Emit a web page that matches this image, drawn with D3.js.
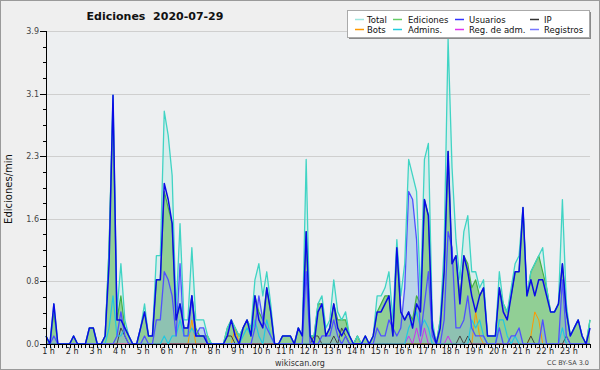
<!DOCTYPE html>
<html>
<head>
<meta charset="utf-8">
<script src="https://cdn.jsdelivr.net/npm/d3@7"></script>
<style>
  body { margin: 0; background: #fff; }
  svg { display: block; font-family: "DejaVu Sans", sans-serif; }
</style>
</head>
<body>
<div id="chart"></div>
<script>
// ediciones por minuto, un valor cada 10 minutos (1 h ... 24 h), una fila por hora
const total = [
  0.1,0,0.5,0,0,0,
  0,0.1,0,0,0,0.2,
  0.2,0,0,0.1,1.2,3.1,
  0.4,1.0,0.3,0.1,0,0,
  0.2,0.5,0.1,0.1,1.1,1.1,
  2.9,2.6,2.1,0.4,1.5,0.3,
  0.3,1.2,0.3,0.3,0.3,0.1,
  0,0,0,0,0.2,0.3,
  0.2,0.1,0.2,0.3,0.2,0.8,
  1.0,0.6,0.9,0.5,0,0,
  0.1,0.1,0.1,0,0.2,0.1,
  2.3,0.1,0.1,0.5,0.6,0.2,
  0.3,0.8,0.4,0.3,0.4,0.1,
  0,0.1,0,0.1,0,0.1,
  0.6,0.6,0.7,0.9,0.3,1.3,
  0.6,1.0,2.3,2.1,1.9,0.6,
  2.3,2.5,0.3,0,0.3,1.2,
  3.8,2.2,1.3,0.8,1.4,1.6,
  0.9,0.9,0.7,0.8,0.1,0.1,
  0.1,0.9,0.5,0.4,0.7,1.0,
  1.1,1.7,0.6,0.9,1.0,1.1,
  1.2,0.7,0.4,0.4,0.5,1.8,
  0.5,0.1,0.2,0.3,0.1,0,0.3
];
const ediciones = [
  0.1,0,0.4,0,0,0,
  0,0.1,0,0,0,0.2,
  0.2,0,0,0.1,1.2,3.0,
  0.3,0.6,0.2,0.1,0,0,
  0.2,0.4,0.1,0.1,0.8,0.8,
  1.9,1.7,1.5,0.3,0.5,0.2,
  0.2,0.6,0.2,0.1,0.1,0.1,
  0,0,0,0,0.2,0.3,
  0.2,0.1,0.2,0.3,0.2,0.6,
  0.4,0.3,0.7,0.4,0,0,
  0.1,0.1,0.1,0,0.2,0.1,
  1.4,0.1,0.1,0.5,0.5,0.1,
  0.2,0.5,0.3,0.3,0.3,0.1,
  0,0.1,0,0.1,0,0.1,
  0.4,0.5,0.6,0.6,0.1,1.2,
  0.4,0.3,0.4,0.3,0.6,0.5,
  1.8,1.6,0.2,0,0.3,0.9,
  2.4,1.0,1.1,0.6,1.1,1.0,
  0.7,0.8,0.6,0.7,0.1,0.1,
  0.1,0.7,0.5,0.4,0.6,0.9,
  0.9,1.7,0.6,0.9,1.0,1.1,
  0.9,0.7,0.4,0.4,0.5,1.0,
  0.4,0.1,0.2,0.3,0.1,0,0.3
];
const usuarios = [
  0.1,0,0.5,0,0,0,
  0,0.1,0,0,0,0.2,
  0.2,0,0,0.1,1.0,3.1,
  0.3,0.3,0.2,0.1,0,0,
  0.2,0.4,0.1,0.1,0.8,0.8,
  2.0,1.8,1.5,0.3,0.5,0.2,
  0.2,0.6,0.1,0.1,0.1,0,
  0,0,0,0,0.1,0.3,
  0.1,0,0.2,0.3,0.1,0.6,
  0.3,0.2,0.7,0.4,0,0,
  0.1,0.1,0.1,0,0.2,0.1,
  1.4,0.1,0,0.4,0.5,0.1,
  0.2,0.5,0.2,0.1,0.2,0.1,
  0,0,0,0.1,0,0.1,
  0.4,0.4,0.5,0.6,0.1,1.2,
  0.4,0.3,0.4,0.2,0.5,0.4,
  1.8,1.6,0.2,0,0.2,0.9,
  2.4,1.0,1.1,0.5,1.1,0.9,
  0.6,0.4,0.6,0.7,0.1,0.1,
  0.1,0.7,0.4,0.3,0.6,0.9,
  0.9,1.7,0.6,0.8,0.6,0.8,
  0.8,0.6,0.4,0.4,0.5,1.0,
  0.4,0.1,0.2,0.3,0.1,0,0.2
];
const ip = [
  0,0,0,0,0,0,
  0,0,0,0,0,0,
  0,0,0,0,0,0,
  0,0.2,0.1,0,0,0,
  0,0,0,0,0,0,
  0,0,0,0,0,0,
  0,0,0,0,0,0,
  0,0,0,0,0.1,0.1,
  0,0,0,0,0,0,
  0,0,0,0,0,0,
  0,0,0,0,0,0,
  0,0,0.1,0.1,0,0,
  0,0.1,0,0.2,0.1,0,
  0,0.1,0,0,0,0,
  0,0,0,0,0,0,
  0,0,0,0,0,0,
  0,0,0,0,0,0,
  0,0,0,0.1,0,0.1,
  0,0,0,0,0,0,
  0,0,0,0,0,0,
  0,0,0,0.1,0,0,
  0,0,0,0,0,0,
  0.1,0,0,0,0,0,0
];
const bots = [
  0,0,0,0,0,0,
  0,0,0,0,0,0,
  0,0,0,0,0,0,
  0,0,0,0,0,0,
  0,0,0,0,0,0,
  0,0,0,0,0,0,
  0,0.3,0,0,0,0,
  0,0,0,0,0,0,
  0.2,0,0,0,0,0,
  0,0,0,0,0,0,
  0,0,0,0,0,0,
  0,0,0,0,0,0,
  0,0,0,0,0,0,
  0,0,0,0,0,0,
  0,0,0,0,0,0,
  0,0,0,0,0,0,
  0,0,0,0,0,0,
  0,0,0,0,0,0,
  0,0.4,0.1,0,0,0,
  0,0,0,0,0,0,
  0,0,0,0.1,0.4,0.3,
  0,0,0,0,0,0,
  0,0,0,0,0,0,0
];
const admins = [
  0,0,0,0,0,0,
  0,0,0,0,0,0,
  0,0,0,0,0.2,0.6,
  0.1,0.1,0.2,0.1,0,0,
  0,0,0,0,0,0,
  0.1,0,0.1,0.1,0.3,0.1,
  0.1,0.2,0.1,0.1,0.1,0,
  0,0,0,0,0,0,
  0,0,0.1,0.2,0.1,0.3,
  0.1,0,0.3,0.1,0,0,
  0,0,0,0,0,0,
  0,0,0,0,0,0,
  0,0,0,0,0,0,
  0,0,0,0,0,0,
  0,0,0,0,0,0,
  0,0,0.2,0.3,0.4,0.2,
  0.3,0.2,0,0,0,0,
  0,0,0,0,0,0,
  0.3,0.2,0.3,0.1,0,0,
  0,0.3,0.3,0.1,0,0.1,
  0,0,0,0,0,0,
  0,0,0,0,0,0.2,
  0,0,0,0,0,0,0
];
const regAdm = [
  0,0,0,0,0,0,
  0,0,0,0,0,0,
  0,0,0,0,0,0,
  0,0,0,0,0,0,
  0,0,0,0,0,0,
  0,0,0,0,0,0,
  0,0,0,0,0,0,
  0,0,0,0,0,0,
  0,0,0,0,0,0,
  0,0,0,0,0,0,
  0,0,0,0,0,0,
  0,0,0,0,0,0,
  0,0,0,0,0,0,
  0,0,0,0,0,0,
  0,0,0,0,0,0,
  0,0,0.1,0,0.2,0,
  0.2,0,0,0,0,0,
  0.1,0,0,0,0,0,
  0,0,0,0,0,0,
  0,0,0,0,0,0,
  0,0,0,0,0,0,
  0,0,0,0,0,0,
  0,0,0,0,0,0,0
];
const registros = [
  0,0,0.1,0,0,0,
  0,0,0,0,0,0,
  0,0,0,0,0,0,
  0.1,0.4,0.1,0,0,0,
  0,0.1,0,0,0.3,0.3,
  0.9,0.8,0.6,0.1,1.0,0.1,
  0.1,0.6,0.1,0.2,0.2,0,
  0,0,0,0,0,0,
  0,0,0,0,0,0.2,
  0.6,0.3,0.2,0.1,0,0,
  0,0,0,0,0,0,
  0.9,0,0,0,0.1,0.1,
  0.1,0.3,0.1,0,0.1,0,
  0,0,0,0,0,0,
  0.2,0.1,0.1,0.3,0.2,0.1,
  0.2,0.7,1.9,1.8,1.3,0.1,
  0.5,0.9,0.1,0,0,0.3,
  1.4,1.2,0.2,0.2,0.3,0.6,
  0.2,0.1,0.1,0.1,0,0,
  0,0.2,0,0,0.1,0.1,
  0.2,0,0,0,0,0,
  0.3,0,0,0,0,0.8,
  0.1,0,0,0,0,0,0
];

const hourLabels = d3.range(1, 24).map(h => h + ' h');
const slotsPerHour = 6;
const yMax = 3.9;
const yTickCount = 5;

const legendItems = [
  { name: 'Total', color: '#9fe6de' },
  { name: 'Bots', color: '#ff9900' },
  { name: 'Ediciones', color: '#66cc66' },
  { name: 'Admins.', color: '#22ccdd' },
  { name: 'Usuarios', color: '#3333ff' },
  { name: 'Reg. de adm.', color: '#dd33ee' },
  { name: 'IP', color: '#333333' },
  { name: 'Registros', color: '#7777ff' }
];

const width = 600, height = 370;
const plotLeft = 46, plotRight = 590, plotTop = 31, plotBottom = 344;

const svg = d3.select('#chart').append('svg')
    .attr('width', width)
    .attr('height', height);

svg.append('rect')
    .attr('x', 0.5).attr('y', 0.5)
    .attr('width', width - 1).attr('height', height - 1)
    .attr('fill', '#efefef')
    .attr('stroke', '#9a9a9a');

svg.append('rect')
    .attr('x', plotLeft).attr('y', plotTop)
    .attr('width', plotRight - plotLeft).attr('height', plotBottom - plotTop)
    .attr('fill', '#edeff1');

const x = d3.scaleLinear().domain([0, total.length - 1]).range([plotLeft, plotRight]);
const y = d3.scaleLinear().domain([0, yMax]).range([plotBottom, plotTop]);

const majorTicks = d3.range(yTickCount + 1).map(k => k * yMax / yTickCount);
const minorTicks = d3.range(yTickCount * 4 + 1).map(k => k * yMax / (yTickCount * 4));

// grid
svg.append('g').selectAll('line')
    .data(majorTicks.slice(1))
    .enter().append('line')
    .attr('x1', plotLeft).attr('x2', plotRight)
    .attr('y1', d => Math.round(y(d)) + 0.5)
    .attr('y2', d => Math.round(y(d)) + 0.5)
    .attr('stroke', '#cfcfcf');

// series
const area = vals => d3.area()
    .x((d, i) => x(i))
    .y0(plotBottom)
    .y1(d => y(d))(vals);
const line = vals => d3.line()
    .x((d, i) => x(i))
    .y(d => y(d))(vals);

const plot = svg.append('g');
plot.append('path').attr('d', area(total)).attr('fill', '#a8e8e0').attr('fill-opacity', 0.3);
plot.append('path').attr('d', area(ediciones)).attr('fill', '#7fc77f').attr('fill-opacity', 0.8);
plot.append('path').attr('d', area(registros)).attr('fill', '#8aa8e8').attr('fill-opacity', 0.35);

const lines = [
  { vals: bots, color: '#ff9900', w: 1 },
  { vals: regAdm, color: '#cc33ee', w: 1 },
  { vals: ip, color: '#444444', w: 1 },
  { vals: admins, color: '#22c8e0', w: 1.2 },
  { vals: ediciones, color: '#44b044', w: 1.2 },
  { vals: registros, color: '#5050ff', w: 1.3 },
  { vals: total, color: '#40d4c4', w: 1.3 },
  { vals: usuarios, color: '#0a0ae6', w: 1.5 }
];
lines.forEach(s => {
  plot.append('path')
      .attr('d', line(s.vals))
      .attr('fill', 'none')
      .attr('stroke', s.color)
      .attr('stroke-width', s.w)
      .attr('stroke-linejoin', 'round');
});

// y axis
const yAxis = svg.append('g').attr('transform', `translate(${plotLeft},0)`);
yAxis.append('line')
    .attr('x1', 0.5).attr('x2', 0.5).attr('y1', plotTop).attr('y2', plotBottom + 1)
    .attr('stroke', '#000');
yAxis.selectAll('.minor')
    .data(minorTicks)
    .enter().append('line')
    .attr('x1', -3).attr('x2', 0)
    .attr('y1', d => Math.round(y(d)) + 0.5)
    .attr('y2', d => Math.round(y(d)) + 0.5)
    .attr('stroke', '#000');
yAxis.selectAll('.major')
    .data(majorTicks)
    .enter().append('line')
    .attr('x1', -6).attr('x2', 0)
    .attr('y1', d => Math.round(y(d)) + 0.5)
    .attr('y2', d => Math.round(y(d)) + 0.5)
    .attr('stroke', '#000');
yAxis.selectAll('text')
    .data(majorTicks)
    .enter().append('text')
    .attr('x', -7).attr('y', d => y(d) + 3)
    .attr('text-anchor', 'end')
    .attr('font-size', 8)
    .attr('fill', '#444')
    .text(d => d.toFixed(1));

// x axis
const xAxis = svg.append('g');
xAxis.append('line')
    .attr('x1', plotLeft).attr('x2', plotRight + 1)
    .attr('y1', plotBottom + 0.5).attr('y2', plotBottom + 0.5)
    .attr('stroke', '#000');
xAxis.selectAll('.tick')
    .data(d3.range(total.length))
    .enter().append('line')
    .attr('x1', d => Math.round(x(d)) + 0.5)
    .attr('x2', d => Math.round(x(d)) + 0.5)
    .attr('y1', plotBottom).attr('y2', plotBottom + 4)
    .attr('stroke', '#000');
xAxis.selectAll('text')
    .data(hourLabels)
    .enter().append('text')
    .attr('x', (d, i) => x(i * slotsPerHour) + 2.5)
    .attr('y', plotBottom + 9.5)
    .attr('text-anchor', 'middle')
    .attr('font-size', 8)
    .attr('fill', '#222')
    .text(d => d);

// titles
svg.append('text')
    .attr('x', 155).attr('y', 20)
    .attr('text-anchor', 'middle')
    .attr('font-size', 11)
    .attr('font-weight', 'bold')
    .attr('fill', '#111')
    .attr('xml:space', 'preserve')
    .text('Ediciones  2020-07-29');

svg.append('text')
    .attr('transform', 'translate(12,189) rotate(-90)')
    .attr('text-anchor', 'middle')
    .attr('font-size', 10)
    .attr('fill', '#111')
    .text('Ediciones/min');

svg.append('text')
    .attr('x', 300).attr('y', 365.5)
    .attr('text-anchor', 'middle')
    .attr('font-size', 8)
    .attr('fill', '#333')
    .text('wikiscan.org');

svg.append('text')
    .attr('x', 589).attr('y', 365)
    .attr('text-anchor', 'end')
    .attr('font-size', 6.5)
    .attr('fill', '#444')
    .text('CC BY-SA 3.0');

// legend
const lg = svg.append('g');
lg.append('rect').attr('x', 349).attr('y', 12).attr('width', 242).attr('height', 27).attr('fill', '#8a8a8a');
lg.append('rect').attr('x', 347.5).attr('y', 10.5).attr('width', 242).attr('height', 27)
    .attr('fill', '#fff').attr('stroke', '#aaa');
const colSwatch = [355, 393, 455, 530];
const colText = [367, 408, 469, 544];
legendItems.forEach((d, k) => {
  const col = Math.floor(k / 2), row = k % 2;
  const yy = row === 0 ? 19.5 : 29.5;
  lg.append('line')
      .attr('x1', colSwatch[col]).attr('x2', colSwatch[col] + 9)
      .attr('y1', yy).attr('y2', yy)
      .attr('stroke', d.color).attr('stroke-width', 1.5);
  lg.append('text')
      .attr('x', colText[col]).attr('y', yy + 3)
      .attr('font-size', 8.5)
      .attr('fill', '#111')
      .text(d.name);
});
</script>
</body>
</html>
